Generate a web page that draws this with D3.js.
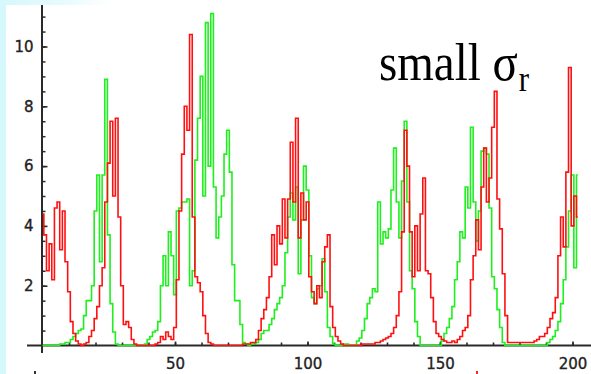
<!DOCTYPE html>
<html><head><meta charset="utf-8">
<script src="https://cdn.jsdelivr.net/npm/d3@7"></script>
<style>html,body{margin:0;padding:0;background:#fff;overflow:hidden}</style>
</head><body>
<svg id="c" width="591" height="374"></svg>
<script>
// time index 0..202
const redSeries = [
  4.4,3.7,2.5,3.4,2.2,4.6,4.8,3.2,4.5,2.8,
  1.8,0.8,0.4,0.15,0.05,0,0.05,0.1,0.3,0.5,
  0.9,1.3,2.0,2.6,4.8,6.1,7.5,5.0,7.6,4.3,
  2.0,0.7,0.8,0.6,0.2,0.05,0,0,0,0,
  0,0,0,0.05,0.1,0.3,0.2,0.45,0.3,0.2,
  0.6,2.2,4.5,6.4,8.0,7.2,10.4,4.3,2.3,2.1,
  1.8,1.0,0.4,0.1,0.05,0,0,0,0,0,
  0,0,0,0,0,0,0.05,0.05,0.05,0.1,
  0.1,0.2,0.5,0.9,1.2,1.6,2.3,3.7,2.7,4.0,
  3.4,4.9,3.6,4.9,6.8,4.8,7.6,3.6,5.1,4.2,
  4.8,2.3,1.8,1.4,2.0,1.6,2.8,3.3,3.7,1.3,
  0.6,0.3,0.15,0.05,0,0,0,0,0,0,
  0,0.05,0.05,0.05,0.05,0.05,0.1,0.1,0.15,0.2,
  0.25,0.3,0.4,0.6,1.0,1.8,3.8,7.2,6.0,3.8,
  2.3,4.0,2.5,4.4,5.6,2.5,2.4,1.6,0.8,0.4,
  0.3,0.2,0.15,0.1,0.1,0.15,0.1,0.2,0.3,0.5,
  0.6,1.0,2.2,3.0,4.2,3.2,5.3,6.6,4.8,5.6,
  7.3,8.5,4.9,3.9,2.4,1.0,0.1,0.1,0.1,0.1,
  0.1,0.1,0.1,0.1,0.1,0.1,0.15,0.2,0.3,0.3,
  0.4,0.6,0.9,1.1,1.6,3.0,4.3,3.3,5.8,9.3,
  4.0,5.0,4.3
];
const greenSeries = [
  0,0,0,0,0,0,0,0.05,0.05,0.1,
  0.1,0.2,0.3,0.4,0.5,0.55,1.0,1.5,1.5,2.0,
  4.5,5.7,2.8,5.7,8.9,3.7,1.4,0.45,0.05,0,
  0,0,0,0,0,0,0,0,0,0.05,
  0.2,0.3,0.45,0.5,0.8,2.0,3.0,2.0,3.8,3.0,
  1.7,4.5,4.6,4.8,4.8,4.9,2.0,2.5,6.2,7.6,
  9.0,5.0,10.8,6.0,11.1,5.3,3.6,4.3,5.0,6.4,
  7.2,5.8,2.7,1.5,1.5,0.7,0.1,0.05,0,0.05,
  0.05,0.1,0.2,0.4,0.5,0.5,0.7,0.9,1.2,1.4,
  1.6,2.0,3.1,4.3,5.1,4.2,5.3,2.4,4.2,6.0,
  5.2,3.0,1.6,1.4,1.9,2.0,2.9,1.8,0.6,0.3,
  0.05,0,0,0,0.05,0.05,0,0,0,0.15,
  0.25,0.5,0.9,1.4,1.6,1.9,1.8,4.8,3.4,3.8,
  3.6,3.9,5.2,6.6,4.8,3.6,5.5,7.5,4.8,2.5,
  1.9,0.8,0.3,0,0,0,0,0,0,0,
  0,0.15,0.4,0.6,0.9,1.3,2.2,2.8,3.8,3.6,
  5.3,4.6,7.3,4.8,3.5,4.5,6.5,6.6,6.4,4.6,
  2.3,1.9,1.2,0.6,0.1,0,0,0,0,0,
  0,0,0,0,0,0,0,0,0,0,
  0,0.1,0.2,0.3,0.5,0.8,1.4,2.2,3.3,4.5,
  5.7,2.6,5.7
];
const xTickLabels = [50, 100, 150, 200];
const xMinorTicks = d3.range(10, 201, 10);
const yTickLabels = [2, 4, 6, 8, 10];
const yMinorTicks = d3.range(0.5, 11.5, 0.5);
const labelMain = "small σ";
const labelSub = "r";

const svg = d3.select("#c");
const defs = svg.append("defs");
const grad = defs.append("linearGradient").attr("id","tg").attr("x1","0").attr("x2","1");
grad.append("stop").attr("offset","0").attr("stop-color","#d6f7fb");
grad.append("stop").attr("offset","0.6").attr("stop-color","#e8fbfd");
grad.append("stop").attr("offset","1").attr("stop-color","#ffffff");

svg.append("rect").attr("width",591).attr("height",374).attr("fill","#fff");
svg.append("rect").attr("x",0).attr("y",0).attr("width",110).attr("height",5).attr("fill","url(#tg)");
svg.append("rect").attr("x",0).attr("y",0).attr("width",6).attr("height",374).attr("fill","#d6f7fb");

const x = d3.scaleLinear().domain([0, 200]).range([42.5, 572.5]);
const y = d3.scaleLinear().domain([0, 10]).range([345.5, 46.5]);

const axisColor = "#2a2a2a";
const tickFont = "'DejaVu Sans', sans-serif";

// axis lines
svg.append("line").attr("x1",27).attr("x2",591).attr("y1",y(0)).attr("y2",y(0))
  .attr("stroke",axisColor).attr("stroke-width",2);
svg.append("line").attr("x1",x(0)-0.5).attr("x2",x(0)-0.5).attr("y1",5).attr("y2",353)
  .attr("stroke",axisColor).attr("stroke-width",2);

// y minor ticks
const gyMinor = svg.append("g").attr("transform",`translate(${x(0)},0)`)
  .call(d3.axisRight(y).tickValues(yMinorTicks).tickSizeInner(3).tickSizeOuter(0).tickFormat(""));
gyMinor.select(".domain").remove();
gyMinor.selectAll("line").attr("stroke",axisColor).attr("stroke-width",1.5);

// y major ticks + labels
const gy = svg.append("g").attr("transform",`translate(${x(0)},0)`)
  .call(d3.axisLeft(y).tickValues(yTickLabels).tickSizeInner(-5).tickSizeOuter(0).tickPadding(9));
gy.select(".domain").remove();
gy.selectAll("line").attr("stroke",axisColor).attr("stroke-width",1.6);
gy.selectAll("text").attr("font-family",tickFont).attr("font-size",15).attr("fill","#222")
  .attr("stroke","#222").attr("stroke-width",0.35);

// x ticks
const gxMinor = svg.append("g").attr("transform",`translate(0,${y(0)})`)
  .call(d3.axisBottom(x).tickValues(xMinorTicks).tickSizeInner(-3).tickSizeOuter(0).tickFormat(""));
gxMinor.select(".domain").remove();
gxMinor.selectAll("line").attr("stroke",axisColor).attr("stroke-width",1.6);

const gx = svg.append("g").attr("transform",`translate(0,${y(0)})`)
  .call(d3.axisBottom(x).tickValues(xTickLabels).tickSizeInner(-4).tickSizeOuter(0).tickPadding(12.5));
gx.select(".domain").remove();
gx.selectAll("line").attr("stroke",axisColor).attr("stroke-width",1.6);
gx.selectAll("text").attr("font-family",tickFont).attr("font-size",15).attr("fill","#222")
  .attr("stroke","#222").attr("stroke-width",0.35);

// series
const line = d3.line().x((d,i)=>x(i)).y(d=>y(d)).curve(d3.curveStep);
svg.append("path").datum(greenSeries).attr("d",line).attr("fill","none")
  .attr("stroke","#1ef01e").attr("stroke-width",1.6);
svg.append("path").datum(redSeries).attr("d",line).attr("fill","none")
  .attr("stroke","#ff1010").attr("stroke-width",1.6);

// label
const t = svg.append("text").attr("transform","translate(379,80) scale(1,1.14)")
  .attr("font-family","'Liberation Serif', 'Times New Roman', serif")
  .attr("font-size",47).attr("fill","#000");
t.append("tspan").text(labelMain);
t.append("tspan").attr("font-size",31).attr("dy",10).attr("dx",1).text(labelSub);

// small edge marks at bottom
svg.append("rect").attr("x",34).attr("y",371).attr("width",2).attr("height",3).attr("fill","#333");
svg.append("rect").attr("x",476).attr("y",371).attr("width",2).attr("height",3).attr("fill","#f22");
</script>
</body></html>
